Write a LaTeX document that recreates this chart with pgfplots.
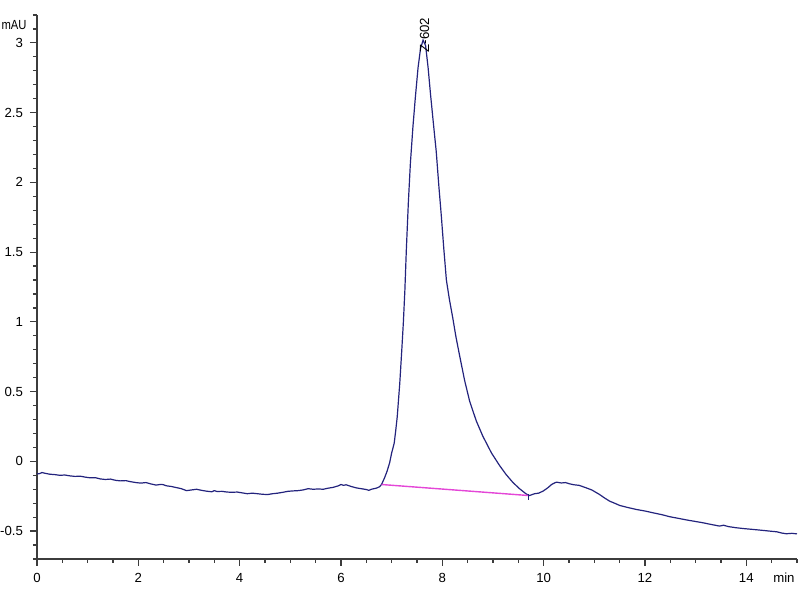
\documentclass[border=0pt]{standalone}
\usepackage{pgfplots}
\pgfplotsset{compat=1.18}
\usepackage{fontspec}
\setmainfont{Liberation Sans}
\definecolor{sig}{RGB}{35,35,125}
\definecolor{base}{RGB}{228,70,215}
\definecolor{axc}{RGB}{60,60,60}
\pgfplotstableread{
x y
0.00 -0.090
0.05 -0.088
0.10 -0.080
0.15 -0.085
0.25 -0.092
0.35 -0.095
0.45 -0.100
0.55 -0.098
0.65 -0.104
0.75 -0.108
0.85 -0.106
0.95 -0.113
1.05 -0.118
1.15 -0.117
1.25 -0.126
1.35 -0.130
1.45 -0.127
1.55 -0.136
1.65 -0.140
1.75 -0.138
1.85 -0.146
1.95 -0.152
2.05 -0.156
2.15 -0.152
2.25 -0.162
2.35 -0.170
2.45 -0.165
2.50 -0.168
2.55 -0.175
2.65 -0.180
2.75 -0.188
2.85 -0.196
2.95 -0.210
3.05 -0.205
3.15 -0.200
3.25 -0.208
3.35 -0.214
3.45 -0.218
3.50 -0.210
3.55 -0.216
3.65 -0.215
3.75 -0.220
3.85 -0.222
3.95 -0.220
4.05 -0.226
4.15 -0.232
4.25 -0.228
4.35 -0.232
4.45 -0.236
4.55 -0.238
4.65 -0.232
4.75 -0.228
4.85 -0.222
4.95 -0.215
5.05 -0.212
5.15 -0.210
5.25 -0.205
5.35 -0.196
5.45 -0.200
5.55 -0.198
5.65 -0.200
5.75 -0.192
5.85 -0.186
5.95 -0.175
6.00 -0.166
6.05 -0.172
6.10 -0.168
6.20 -0.180
6.30 -0.190
6.40 -0.196
6.50 -0.202
6.55 -0.208
6.60 -0.200
6.70 -0.192
6.76 -0.182
6.80 -0.166
6.86 -0.118
6.91 -0.070
6.96 -0.010
7.00 0.060
7.05 0.130
7.08 0.220
7.11 0.320
7.16 0.560
7.20 0.800
7.23 0.990
7.26 1.220
7.29 1.520
7.33 1.860
7.37 2.140
7.42 2.400
7.47 2.620
7.52 2.820
7.57 2.960
7.62 3.020
7.67 2.980
7.72 2.820
7.77 2.620
7.83 2.400
7.88 2.220
7.93 1.980
7.98 1.760
8.03 1.520
8.08 1.300
8.14 1.160
8.21 1.020
8.27 0.890
8.34 0.760
8.44 0.580
8.54 0.430
8.67 0.290
8.80 0.180
8.97 0.060
9.13 -0.030
9.26 -0.095
9.39 -0.150
9.52 -0.195
9.60 -0.218
9.66 -0.235
9.72 -0.245
9.82 -0.232
9.90 -0.228
9.99 -0.213
10.08 -0.190
10.16 -0.165
10.25 -0.149
10.35 -0.155
10.43 -0.152
10.51 -0.161
10.60 -0.168
10.70 -0.172
10.84 -0.190
10.95 -0.205
11.10 -0.237
11.20 -0.262
11.30 -0.285
11.40 -0.300
11.50 -0.316
11.65 -0.330
11.83 -0.345
12.00 -0.356
12.16 -0.369
12.33 -0.382
12.49 -0.397
12.65 -0.408
12.82 -0.420
12.98 -0.430
13.14 -0.440
13.30 -0.452
13.47 -0.464
13.55 -0.458
13.65 -0.468
13.80 -0.476
13.95 -0.482
14.13 -0.488
14.30 -0.494
14.46 -0.500
14.60 -0.505
14.70 -0.514
14.79 -0.519
14.90 -0.516
15.00 -0.520
}\sigdata
\begin{document}
\begin{tikzpicture}
\begin{axis}[
  scale only axis,
  width=380pt, height=272pt,
  xmin=0, xmax=15, ymin=-0.7, ymax=3.2,
  axis x line=bottom, axis y line=left,
  axis line style={-, axc, line width=0.7pt},
  xtick={0,2,...,14},
  ytick={-0.5,0,0.5,1,1.5,2,2.5,3},
  yticklabels={-0.5,0,0.5,1,1.5,2,2.5,3},
  minor xtick={0.5,1,...,15},
  minor ytick={-0.7,-0.6,...,3.2},
  tick align=outside,
  major tick length=3.5pt,
  minor tick length=2pt,
  tick style={axc, line width=0.6pt},
  every tick label/.append style={font=\fontsize{6.6}{8}\selectfont, text=black},
  /pgf/number format/assume math mode=true,
  clip=false,
]
\addplot[sig, line width=0.6pt] table[x=x,y=y] {\sigdata};
\addplot[base, line width=0.7pt] coordinates {(6.80,-0.166) (9.70,-0.245)};
\addplot[sig, line width=0.5pt] coordinates {(9.70,-0.235) (9.70,-0.275)};
\node[anchor=east, xscale=0.85, inner sep=0pt, font=\fontsize{6.6}{8}\selectfont] at (axis cs:-0.2,3.125) {mAU};
\node[anchor=north east, inner sep=0pt, font=\fontsize{6.6}{8}\selectfont] at (axis cs:14.96,-0.8) {min};
\node[rotate=90, anchor=west, inner sep=0pt, font=\fontsize{6.6}{8}\selectfont] at (axis cs:7.65,2.93) {Z-602};
\end{axis}
\pgfresetboundingbox
\path[use as bounding box] (-18.5pt,-20.5pt) rectangle (381.5pt,279.5pt);
\end{tikzpicture}
\end{document}
